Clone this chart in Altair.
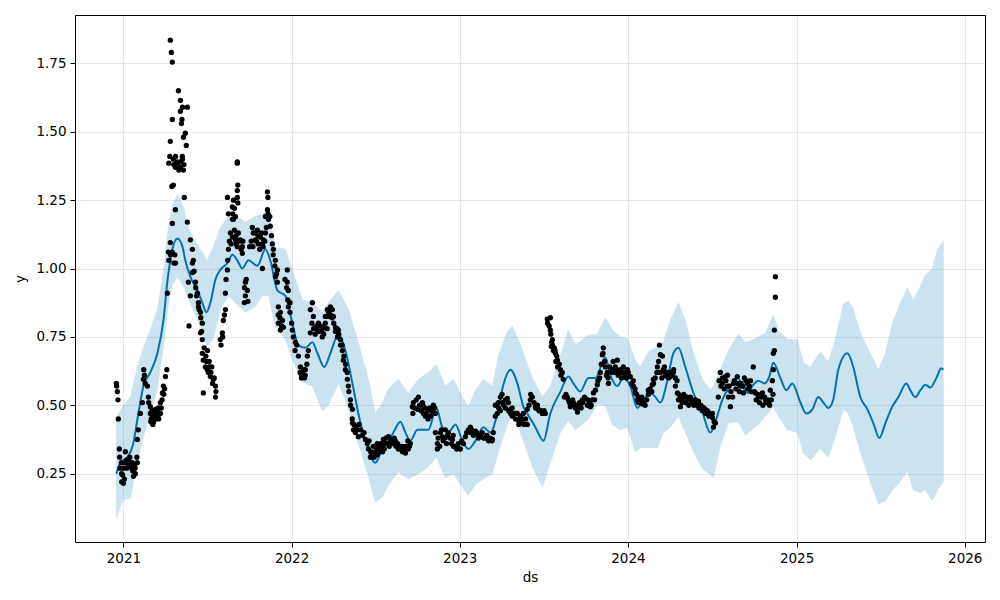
import altair as alt
import pandas as pd

# ---- forecast line (decimal year, yhat) ----
fc_t = [2020.958, 2020.982, 2021.024, 2021.059, 2021.089, 2021.119, 2021.160, 2021.202, 2021.238, 2021.261,
        2021.291, 2021.321, 2021.351, 2021.368, 2021.398, 2021.440, 2021.469, 2021.493, 2021.517, 2021.547,
        2021.576, 2021.618, 2021.648, 2021.677, 2021.707, 2021.743, 2021.796, 2021.844, 2021.873, 2021.915,
        2021.963, 2022.004, 2022.040, 2022.081, 2022.123, 2022.153, 2022.194, 2022.230, 2022.278, 2022.319,
        2022.361, 2022.396, 2022.438, 2022.497, 2022.539, 2022.575, 2022.604, 2022.646, 2022.676, 2022.705,
        2022.747, 2022.783, 2022.812, 2022.860, 2022.895, 2022.931, 2022.973, 2023.014, 2023.050, 2023.092,
        2023.139, 2023.181, 2023.222, 2023.258, 2023.300, 2023.341, 2023.377, 2023.400, 2023.448, 2023.496,
        2023.537, 2023.597, 2023.644, 2023.674, 2023.715, 2023.763, 2023.805, 2023.864, 2023.894, 2023.935,
        2023.971, 2024.012, 2024.054, 2024.090, 2024.131, 2024.161, 2024.191, 2024.232, 2024.268, 2024.298,
        2024.339, 2024.387, 2024.440, 2024.488, 2024.518, 2024.559, 2024.607, 2024.648, 2024.708, 2024.743,
        2024.773, 2024.809, 2024.838, 2024.862, 2024.904, 2024.939, 2024.975, 2025.023, 2025.058, 2025.094,
        2025.129, 2025.159, 2025.189, 2025.218, 2025.248, 2025.302, 2025.337, 2025.379, 2025.421, 2025.456,
        2025.492, 2025.528, 2025.569, 2025.605, 2025.652, 2025.676, 2025.706, 2025.736, 2025.765, 2025.795,
        2025.831, 2025.860, 2025.872]
fc_y = [0.25, 0.29, 0.31, 0.36, 0.47, 0.57, 0.62, 0.69, 0.81, 0.95,
        1.07, 1.11, 1.08, 1.03, 0.97, 0.92, 0.875, 0.84, 0.875, 0.96,
        0.995, 1.02, 1.05, 1.03, 1.00, 1.03, 1.01, 1.07, 1.03, 0.92,
        0.90, 0.80, 0.72, 0.71, 0.73, 0.69, 0.64, 0.69, 0.76, 0.70,
        0.58, 0.47, 0.37, 0.29, 0.34, 0.37, 0.40, 0.44, 0.40, 0.37,
        0.41, 0.41, 0.41, 0.49, 0.42, 0.40, 0.43, 0.37, 0.34, 0.37,
        0.42, 0.40, 0.47, 0.575, 0.63, 0.58, 0.495, 0.47, 0.42, 0.37,
        0.47, 0.55, 0.605, 0.58, 0.55, 0.60, 0.60, 0.675, 0.61, 0.57,
        0.60, 0.57, 0.49, 0.52, 0.545, 0.53, 0.51, 0.59, 0.69, 0.71,
        0.64, 0.545, 0.475, 0.40, 0.44, 0.52, 0.57, 0.60, 0.545, 0.575,
        0.59, 0.58, 0.605, 0.655, 0.60, 0.555, 0.58, 0.51, 0.47, 0.485,
        0.53, 0.51, 0.49, 0.52, 0.63, 0.69, 0.64, 0.53, 0.485, 0.435,
        0.38, 0.435, 0.495, 0.53, 0.58, 0.555, 0.53, 0.555, 0.575, 0.565,
        0.60, 0.635, 0.63]

# ---- uncertainty band (decimal year, lower, upper) ----
band_t = [2020.958, 2020.982, 2021.000, 2021.042, 2021.083, 2021.119, 2021.160, 2021.202, 2021.238, 2021.267,
          2021.291, 2021.321, 2021.357, 2021.386, 2021.428, 2021.458, 2021.499, 2021.535, 2021.576, 2021.624,
          2021.666, 2021.725, 2021.784, 2021.826, 2021.862, 2021.903, 2021.963, 2022.010, 2022.064, 2022.123,
          2022.182, 2022.218, 2022.278, 2022.337, 2022.396, 2022.456, 2022.497, 2022.539, 2022.575, 2022.634,
          2022.693, 2022.753, 2022.812, 2022.860, 2022.913, 2022.961, 2023.014, 2023.050, 2023.092, 2023.139,
          2023.193, 2023.228, 2023.282, 2023.311, 2023.347, 2023.389, 2023.430, 2023.490, 2023.537, 2023.597,
          2023.644, 2023.686, 2023.757, 2023.816, 2023.864, 2023.906, 2023.953, 2023.995, 2024.042, 2024.072,
          2024.119, 2024.173, 2024.209, 2024.250, 2024.298, 2024.339, 2024.387, 2024.440, 2024.488, 2024.506,
          2024.547, 2024.595, 2024.654, 2024.696, 2024.743, 2024.773, 2024.815, 2024.862, 2024.892, 2024.945,
          2025.005, 2025.040, 2025.082, 2025.141, 2025.189, 2025.230, 2025.278, 2025.307, 2025.332, 2025.379,
          2025.438, 2025.486, 2025.528, 2025.569, 2025.617, 2025.658, 2025.694, 2025.736, 2025.765, 2025.807,
          2025.837, 2025.872]
band_lo = [0.09, 0.13, 0.155, 0.16, 0.29, 0.385, 0.47, 0.56, 0.715, 0.87,
           0.94, 0.97, 0.935, 0.89, 0.83, 0.79, 0.715, 0.745, 0.85, 0.90,
           0.875, 0.84, 0.86, 0.90, 0.90, 0.79, 0.74, 0.66, 0.585, 0.57,
           0.48, 0.50, 0.58, 0.49, 0.36, 0.24, 0.145, 0.165, 0.21, 0.255,
           0.23, 0.25, 0.275, 0.31, 0.235, 0.25, 0.20, 0.17, 0.21, 0.23,
           0.25, 0.33, 0.43, 0.47, 0.42, 0.35, 0.275, 0.20, 0.29, 0.40,
           0.445, 0.41, 0.445, 0.50, 0.50, 0.43, 0.41, 0.42, 0.33, 0.345,
           0.345, 0.345, 0.40, 0.42, 0.46, 0.40, 0.33, 0.27, 0.245, 0.235,
           0.35, 0.435, 0.44, 0.39, 0.415, 0.43, 0.46, 0.495, 0.46, 0.41,
           0.40, 0.325, 0.30, 0.34, 0.31, 0.385, 0.485, 0.47, 0.43, 0.33,
           0.22, 0.14, 0.15, 0.19, 0.22, 0.26, 0.19, 0.18, 0.19, 0.15,
           0.19, 0.22]
band_hi = [0.455, 0.48, 0.50, 0.53, 0.64, 0.71, 0.775, 0.85, 0.985, 1.15,
           1.23, 1.27, 1.225, 1.15, 1.10, 1.07, 1.03, 1.08, 1.15, 1.19,
           1.195, 1.17, 1.19, 1.20, 1.215, 1.08, 1.07, 0.985, 0.885, 0.875,
           0.84, 0.875, 0.92, 0.85, 0.73, 0.595, 0.47, 0.51, 0.56, 0.595,
           0.545, 0.595, 0.62, 0.65, 0.57, 0.595, 0.53, 0.495, 0.555, 0.595,
           0.57, 0.68, 0.77, 0.79, 0.74, 0.67, 0.60, 0.53, 0.57, 0.68,
           0.775, 0.72, 0.755, 0.76, 0.82, 0.775, 0.75, 0.745, 0.665, 0.64,
           0.695, 0.715, 0.73, 0.81, 0.875, 0.81, 0.69, 0.595, 0.555, 0.57,
           0.63, 0.70, 0.76, 0.73, 0.74, 0.75, 0.765, 0.83, 0.775, 0.74,
           0.74, 0.655, 0.64, 0.695, 0.66, 0.74, 0.87, 0.88, 0.86, 0.765,
           0.69, 0.63, 0.69, 0.80, 0.875, 0.93, 0.885, 0.935, 0.975, 1.00,
           1.07, 1.10]

# ---- observed points (decimal year, y) ----
obs_2021 = [
    (2020.958, 0.58), (2020.960, 0.57), (2020.964, 0.55), (2020.968, 0.52), (2020.970, 0.45),
    (2020.976, 0.34), (2020.978, 0.31), (2020.988, 0.29), (2020.990, 0.22), (2020.996, 0.245),
    (2021.000, 0.215), (2021.006, 0.23), (2021.012, 0.33), (2021.020, 0.27), (2021.030, 0.30),
    (2021.038, 0.31), (2021.046, 0.285), (2021.053, 0.29), (2021.056, 0.26), (2021.059, 0.275),
    (2021.066, 0.28), (2021.071, 0.25), (2021.083, 0.29), (2021.083, 0.375), (2021.089, 0.41),
    (2021.101, 0.47), (2021.113, 0.51), (2021.119, 0.595), (2021.121, 0.63), (2021.143, 0.57),
    (2021.149, 0.53), (2021.160, 0.495), (2021.163, 0.44), (2021.172, 0.46), (2021.175, 0.43),
    (2021.178, 0.47), (2021.182, 0.45), (2021.190, 0.485), (2021.196, 0.46), (2021.202, 0.47),
    (2021.208, 0.49), (2021.214, 0.47), (2021.220, 0.51), (2021.232, 0.545), (2021.238, 0.57),
    (2021.250, 0.605), (2021.258, 0.63), (2021.261, 0.91), (2021.267, 1.06), (2021.279, 1.095),
    (2021.291, 1.165), (2021.300, 1.02), (2021.306, 1.05), (2021.309, 1.215), (2021.270, 1.385),
    (2021.276, 1.41), (2021.291, 1.545), (2021.279, 1.465), (2021.279, 1.835), (2021.285, 1.79),
    (2021.291, 1.755), (2021.297, 1.40), (2021.309, 1.37), (2021.321, 1.385), (2021.339, 1.37),
    (2021.351, 1.40), (2021.357, 1.36), (2021.327, 1.65), (2021.339, 1.615), (2021.351, 1.59),
    (2021.339, 1.575), (2021.348, 1.545), (2021.345, 1.53), (2021.357, 1.48), (2021.368, 1.495),
    (2021.374, 1.45), (2021.380, 1.59), (2021.288, 1.30), (2021.297, 1.305), (2021.362, 1.26),
    (2021.380, 1.17), (2021.398, 1.105), (2021.410, 1.07), (2021.416, 1.03), (2021.410, 0.985),
    (2021.386, 0.95), (2021.398, 0.90), (2021.390, 0.79), (2021.428, 0.95), (2021.440, 0.91),
    (2021.446, 0.875), (2021.458, 0.84), (2021.469, 0.80), (2021.446, 0.86), (2021.469, 0.74),
    (2021.458, 0.765), (2021.469, 0.69), (2021.475, 0.665), (2021.487, 0.64), (2021.499, 0.63),
    (2021.505, 0.62), (2021.517, 0.605), (2021.535, 0.595), (2021.547, 0.57), (2021.547, 0.53),
    (2021.475, 0.545), (2021.510, 0.66), (2021.525, 0.64),
    (2020.980, 0.27), (2020.990, 0.25), (2021.000, 0.27), (2021.010, 0.29), (2021.020, 0.30),
    (2021.030, 0.28), (2021.040, 0.29), (2021.050, 0.27), (2021.060, 0.24), (2021.070, 0.27),
    (2021.080, 0.31), (2021.125, 0.61), (2021.130, 0.58), (2021.150, 0.51), (2021.160, 0.47),
    (2021.165, 0.45), (2021.170, 0.48), (2021.180, 0.44), (2021.185, 0.47), (2021.190, 0.45),
    (2021.200, 0.48), (2021.205, 0.46), (2021.210, 0.45), (2021.220, 0.47), (2021.225, 0.49),
    (2021.230, 0.52), (2021.240, 0.54), (2021.245, 0.56),
    (2021.300, 1.38), (2021.310, 1.41), (2021.320, 1.39), (2021.330, 1.36), (2021.340, 1.39),
    (2021.350, 1.41), (2021.360, 1.38), (2021.270, 1.03), (2021.280, 1.05), (2021.290, 1.06),
    (2021.310, 1.02), (2021.410, 1.02), (2021.420, 0.99), (2021.430, 0.93), (2021.435, 0.90),
    (2021.450, 0.85), (2021.460, 0.82), (2021.465, 0.77), (2021.480, 0.71), (2021.490, 0.68),
    (2021.495, 0.66), (2021.500, 0.70), (2021.510, 0.64), (2021.520, 0.62), (2021.530, 0.58),
    (2021.540, 0.60), (2021.550, 0.55),
    (2021.576, 0.74), (2021.588, 0.765), (2021.594, 0.81), (2021.606, 0.85), (2021.606, 0.91),
    (2021.618, 0.995), (2021.624, 1.07), (2021.636, 1.13), (2021.648, 1.18), (2021.648, 1.225),
    (2021.654, 1.25), (2021.677, 1.285), (2021.677, 1.385), (2021.654, 1.18), (2021.666, 1.105),
    (2021.677, 1.08), (2021.648, 1.115), (2021.618, 1.26), (2021.624, 1.20), (2021.677, 1.39),
    (2021.680, 1.305), (2021.677, 1.26), (2021.680, 1.24), (2021.666, 1.19), (2021.683, 1.13),
    (2021.695, 1.105), (2021.707, 1.08), (2021.707, 1.055), (2021.725, 0.95), (2021.737, 0.92),
    (2021.725, 0.90), (2021.719, 0.875), (2021.766, 1.15), (2021.772, 1.13), (2021.784, 1.105),
    (2021.796, 1.14), (2021.802, 1.09), (2021.814, 1.115), (2021.826, 1.09), (2021.832, 1.105),
    (2021.844, 1.13), (2021.844, 1.19), (2021.856, 1.215), (2021.856, 1.28), (2021.859, 1.26),
    (2021.862, 1.18), (2021.873, 1.155), (2021.826, 1.00), (2021.885, 1.09), (2021.891, 1.07),
    (2021.903, 1.03), (2021.915, 0.995), (2021.903, 0.97), (2021.915, 0.95), (2021.921, 0.86),
    (2021.933, 0.84), (2021.945, 0.81), (2021.951, 0.785), (2021.921, 0.80), (2021.933, 0.775),
    (2021.974, 0.995), (2021.974, 0.95), (2021.980, 0.92), (2021.977, 0.885), (2021.990, 0.875),
    (2021.580, 0.72), (2021.590, 0.75), (2021.600, 0.83), (2021.610, 0.96), (2021.620, 1.03),
    (2021.630, 1.10), (2021.640, 1.09), (2021.650, 1.20), (2021.660, 1.14), (2021.670, 1.12),
    (2021.660, 1.22), (2021.670, 1.09), (2021.690, 1.10), (2021.700, 1.07), (2021.710, 1.10),
    (2021.720, 0.93), (2021.730, 0.96), (2021.740, 0.88), (2021.750, 1.08), (2021.760, 1.10),
    (2021.770, 1.08), (2021.780, 1.13), (2021.790, 1.10), (2021.800, 1.12), (2021.810, 1.07),
    (2021.820, 1.13), (2021.830, 1.08), (2021.840, 1.10), (2021.850, 1.15), (2021.860, 1.20),
    (2021.870, 1.19), (2021.880, 1.12), (2021.890, 1.05), (2021.900, 1.01), (2021.910, 0.98),
    (2021.920, 0.83), (2021.930, 0.82), (2021.940, 0.79), (2021.960, 0.96), (2021.970, 0.93),
    (2021.980, 0.86), (2021.990, 0.84),
]
obs_2022 = [
    (2022.004, 0.775), (2022.010, 0.75), (2022.022, 0.73), (2022.040, 0.68), (2022.052, 0.64),
    (2022.058, 0.60), (2022.064, 0.62), (2022.070, 0.605), (2022.076, 0.60), (2022.081, 0.63),
    (2022.093, 0.68), (2022.099, 0.70), (2022.111, 0.765), (2022.111, 0.85), (2022.123, 0.875),
    (2022.129, 0.825), (2022.141, 0.785), (2022.153, 0.775), (2022.159, 0.80), (2022.171, 0.77),
    (2022.182, 0.75), (2022.188, 0.785), (2022.200, 0.825), (2022.212, 0.85), (2022.218, 0.825),
    (2022.230, 0.86), (2022.242, 0.85), (2022.248, 0.825), (2022.260, 0.785), (2022.272, 0.75),
    (2022.278, 0.775), (2022.289, 0.74), (2022.301, 0.70), (2022.307, 0.665), (2022.319, 0.63),
    (2022.331, 0.595), (2022.337, 0.57), (2022.349, 0.52), (2022.361, 0.485), (2022.361, 0.435),
    (2022.367, 0.41), (2022.378, 0.40), (2022.396, 0.385), (2022.420, 0.39), (2022.438, 0.375),
    (2022.456, 0.34), (2022.468, 0.31), (2022.485, 0.35), (2022.509, 0.36), (2022.527, 0.35),
    (2022.545, 0.375), (2022.497, 0.33), (2022.515, 0.34), (2022.539, 0.35), (2022.557, 0.36),
    (2022.575, 0.385), (2022.598, 0.375), (2022.616, 0.37), (2022.634, 0.34), (2022.658, 0.33),
    (2022.676, 0.325), (2022.693, 0.34), (2022.705, 0.36), (2022.717, 0.495), (2022.723, 0.51),
    (2022.747, 0.485), (2022.753, 0.53), (2022.777, 0.51), (2022.783, 0.47), (2022.794, 0.46),
    (2022.812, 0.485), (2022.824, 0.46), (2022.842, 0.50), (2022.854, 0.47), (2022.854, 0.40),
    (2022.866, 0.36), (2022.866, 0.34), (2022.884, 0.40), (2022.895, 0.385), (2022.913, 0.41),
    (2022.925, 0.39), (2022.931, 0.40), (2022.955, 0.375), (2022.961, 0.35), (2022.985, 0.345),
    (2022.000, 0.80), (2022.020, 0.70), (2022.030, 0.72), (2022.050, 0.62), (2022.060, 0.61),
    (2022.070, 0.63), (2022.080, 0.61), (2022.090, 0.65), (2022.120, 0.80), (2022.130, 0.78),
    (2022.140, 0.76), (2022.150, 0.79), (2022.160, 0.77), (2022.170, 0.79), (2022.180, 0.77),
    (2022.190, 0.76), (2022.200, 0.80), (2022.210, 0.78), (2022.220, 0.84), (2022.230, 0.83),
    (2022.240, 0.82), (2022.250, 0.80), (2022.260, 0.77), (2022.270, 0.78), (2022.280, 0.76),
    (2022.290, 0.72), (2022.300, 0.72), (2022.310, 0.68), (2022.320, 0.65), (2022.330, 0.62),
    (2022.340, 0.55), (2022.350, 0.50), (2022.360, 0.45), (2022.370, 0.43), (2022.380, 0.42),
    (2022.390, 0.41), (2022.400, 0.43), (2022.410, 0.41), (2022.430, 0.40), (2022.450, 0.36),
    (2022.460, 0.37), (2022.470, 0.33), (2022.480, 0.32), (2022.490, 0.31), (2022.500, 0.35),
    (2022.510, 0.32), (2022.520, 0.33), (2022.530, 0.36), (2022.540, 0.33), (2022.550, 0.34),
    (2022.560, 0.38), (2022.570, 0.36), (2022.580, 0.35), (2022.590, 0.37), (2022.600, 0.36),
    (2022.610, 0.38), (2022.620, 0.35), (2022.630, 0.36), (2022.640, 0.35), (2022.650, 0.34),
    (2022.660, 0.35), (2022.670, 0.34), (2022.680, 0.35), (2022.690, 0.37), (2022.700, 0.35),
    (2022.720, 0.47), (2022.730, 0.49), (2022.740, 0.52), (2022.760, 0.50), (2022.770, 0.48),
    (2022.780, 0.50), (2022.790, 0.49), (2022.800, 0.47), (2022.810, 0.45), (2022.820, 0.49),
    (2022.830, 0.48), (2022.840, 0.47), (2022.850, 0.49), (2022.870, 0.38), (2022.880, 0.35),
    (2022.890, 0.41), (2022.900, 0.37), (2022.910, 0.38), (2022.920, 0.36), (2022.940, 0.38),
    (2022.950, 0.36), (2022.960, 0.39), (2022.970, 0.35), (2022.980, 0.34), (2022.990, 0.36),
]
obs_2023 = [
    (2023.002, 0.34), (2023.020, 0.36), (2023.032, 0.385), (2023.050, 0.41), (2023.062, 0.42),
    (2023.074, 0.40), (2023.092, 0.405), (2023.109, 0.385), (2023.133, 0.40), (2023.151, 0.38),
    (2023.169, 0.375), (2023.193, 0.375), (2023.198, 0.40), (2023.210, 0.46), (2023.222, 0.47),
    (2023.228, 0.51), (2023.240, 0.53), (2023.252, 0.51), (2023.270, 0.52), (2023.282, 0.525),
    (2023.288, 0.51), (2023.300, 0.485), (2023.311, 0.46), (2023.329, 0.47), (2023.347, 0.445),
    (2023.359, 0.46), (2023.371, 0.435), (2023.377, 0.47), (2023.400, 0.485), (2023.418, 0.52),
    (2023.430, 0.53), (2023.448, 0.495), (2023.466, 0.485), (2023.490, 0.47), (2023.507, 0.47),
    (2023.519, 0.815), (2023.537, 0.82), (2023.537, 0.775), (2023.549, 0.74), (2023.543, 0.715),
    (2023.555, 0.70), (2023.567, 0.69), (2023.579, 0.665), (2023.585, 0.64), (2023.597, 0.63),
    (2023.608, 0.62), (2023.614, 0.595), (2023.638, 0.53), (2023.644, 0.52), (2023.656, 0.495),
    (2023.674, 0.51), (2023.686, 0.49), (2023.698, 0.475), (2023.715, 0.495), (2023.727, 0.52),
    (2023.745, 0.525), (2023.757, 0.50), (2023.775, 0.495), (2023.787, 0.52), (2023.793, 0.545),
    (2023.805, 0.555), (2023.816, 0.575), (2023.834, 0.62), (2023.846, 0.685), (2023.852, 0.71),
    (2023.864, 0.64), (2023.876, 0.62), (2023.882, 0.58), (2023.906, 0.63), (2023.923, 0.64),
    (2023.935, 0.665), (2023.953, 0.63), (2023.971, 0.64), (2023.995, 0.63),
    (2023.010, 0.37), (2023.040, 0.40), (2023.060, 0.40), (2023.070, 0.41), (2023.080, 0.39),
    (2023.100, 0.40), (2023.110, 0.38), (2023.120, 0.39), (2023.140, 0.38), (2023.160, 0.39),
    (2023.170, 0.37), (2023.180, 0.38), (2023.190, 0.37), (2023.210, 0.50), (2023.230, 0.49),
    (2023.240, 0.48), (2023.250, 0.54), (2023.260, 0.50), (2023.270, 0.49), (2023.290, 0.48),
    (2023.300, 0.47), (2023.310, 0.49), (2023.320, 0.47), (2023.330, 0.45), (2023.340, 0.47),
    (2023.350, 0.43), (2023.360, 0.44), (2023.370, 0.45), (2023.380, 0.43), (2023.390, 0.45),
    (2023.400, 0.43), (2023.410, 0.50), (2023.420, 0.54), (2023.440, 0.51), (2023.450, 0.49),
    (2023.460, 0.50), (2023.470, 0.48), (2023.480, 0.48), (2023.490, 0.47), (2023.500, 0.48),
    (2023.520, 0.80), (2023.530, 0.79), (2023.540, 0.76), (2023.545, 0.73), (2023.550, 0.72),
    (2023.560, 0.71), (2023.565, 0.70), (2023.570, 0.66), (2023.575, 0.68), (2023.580, 0.64),
    (2023.590, 0.65), (2023.600, 0.61), (2023.620, 0.53), (2023.630, 0.54), (2023.650, 0.51),
    (2023.660, 0.50), (2023.670, 0.52), (2023.680, 0.50), (2023.690, 0.49), (2023.700, 0.50),
    (2023.710, 0.51), (2023.720, 0.49), (2023.730, 0.51), (2023.740, 0.53), (2023.760, 0.52),
    (2023.770, 0.51), (2023.780, 0.50), (2023.800, 0.52), (2023.820, 0.59), (2023.830, 0.60),
    (2023.840, 0.65), (2023.850, 0.69), (2023.860, 0.66), (2023.870, 0.61), (2023.880, 0.60),
    (2023.890, 0.64), (2023.900, 0.62), (2023.910, 0.66), (2023.920, 0.62), (2023.930, 0.63),
    (2023.940, 0.61), (2023.950, 0.62), (2023.960, 0.60), (2023.970, 0.62), (2023.980, 0.61),
    (2023.990, 0.60),
]
obs_2024 = [
    (2024.012, 0.605), (2024.030, 0.57), (2024.042, 0.545), (2024.054, 0.52), (2024.060, 0.51),
    (2024.084, 0.505), (2024.102, 0.52), (2024.119, 0.555), (2024.143, 0.575), (2024.149, 0.595),
    (2024.173, 0.64), (2024.185, 0.72), (2024.191, 0.685), (2024.209, 0.63), (2024.232, 0.605),
    (2024.238, 0.62), (2024.203, 0.68), (2024.215, 0.64), (2024.220, 0.62), (2024.250, 0.605),
    (2024.268, 0.62), (2024.280, 0.57), (2024.292, 0.545), (2024.298, 0.52), (2024.310, 0.495),
    (2024.321, 0.525), (2024.339, 0.53), (2024.357, 0.52), (2024.381, 0.51), (2024.399, 0.52),
    (2024.417, 0.515), (2024.440, 0.495), (2024.458, 0.485), (2024.476, 0.47), (2024.500, 0.455),
    (2024.506, 0.42), (2024.518, 0.435), (2024.535, 0.53), (2024.547, 0.62), (2024.559, 0.58),
    (2024.577, 0.605), (2024.589, 0.57), (2024.595, 0.53), (2024.607, 0.495), (2024.625, 0.58),
    (2024.648, 0.605), (2024.666, 0.57), (2024.684, 0.545), (2024.708, 0.58), (2024.726, 0.59),
    (2024.743, 0.64), (2024.755, 0.545), (2024.773, 0.53), (2024.797, 0.545), (2024.815, 0.52),
    (2024.833, 0.51), (2024.844, 0.555), (2024.856, 0.59), (2024.862, 0.63), (2024.862, 0.69),
    (2024.868, 0.70), (2024.868, 0.775), (2024.874, 0.895), (2024.874, 0.97),
    (2024.000, 0.62), (2024.020, 0.58), (2024.030, 0.59), (2024.040, 0.56), (2024.050, 0.54),
    (2024.060, 0.53), (2024.070, 0.52), (2024.080, 0.53), (2024.090, 0.51), (2024.100, 0.50),
    (2024.110, 0.52), (2024.120, 0.54), (2024.130, 0.56), (2024.140, 0.55), (2024.150, 0.58),
    (2024.160, 0.60), (2024.170, 0.62), (2024.180, 0.66), (2024.190, 0.62), (2024.200, 0.60),
    (2024.210, 0.63), (2024.220, 0.61), (2024.230, 0.62), (2024.240, 0.60), (2024.250, 0.62),
    (2024.260, 0.61), (2024.270, 0.63), (2024.280, 0.60), (2024.290, 0.59), (2024.300, 0.54),
    (2024.310, 0.53), (2024.320, 0.51), (2024.330, 0.54), (2024.340, 0.51), (2024.350, 0.53),
    (2024.360, 0.50), (2024.370, 0.53), (2024.380, 0.52), (2024.390, 0.50), (2024.400, 0.51),
    (2024.410, 0.50), (2024.420, 0.49), (2024.430, 0.50), (2024.440, 0.48), (2024.450, 0.49),
    (2024.460, 0.47), (2024.470, 0.48), (2024.480, 0.46), (2024.490, 0.47), (2024.500, 0.47),
    (2024.510, 0.44), (2024.540, 0.59), (2024.550, 0.57), (2024.560, 0.60), (2024.570, 0.56),
    (2024.580, 0.59), (2024.590, 0.61), (2024.600, 0.57), (2024.610, 0.55), (2024.620, 0.53),
    (2024.630, 0.59), (2024.640, 0.56), (2024.650, 0.58), (2024.660, 0.55), (2024.670, 0.58),
    (2024.680, 0.57), (2024.690, 0.60), (2024.700, 0.59), (2024.710, 0.56), (2024.720, 0.57),
    (2024.730, 0.55), (2024.750, 0.55), (2024.760, 0.52), (2024.770, 0.54), (2024.780, 0.51),
    (2024.790, 0.53), (2024.800, 0.50), (2024.810, 0.53), (2024.820, 0.51), (2024.830, 0.52),
    (2024.840, 0.50), (2024.850, 0.52), (2024.860, 0.54),
]

x_ticks = [2021, 2022, 2023, 2024, 2025, 2026]
y_ticks = [0.25, 0.50, 0.75, 1.00, 1.25, 1.50, 1.75]

BASE = pd.Timestamp("2021-01-01")


def to_dates(years):
    return [BASE + pd.Timedelta(days=(t - 2021.0) * 365.25) for t in years]


fc_df = pd.DataFrame({"ds": to_dates(fc_t), "yhat": fc_y})
band_df = pd.DataFrame({"ds": to_dates(band_t), "lo": band_lo, "hi": band_hi})
obs = obs_2021 + obs_2022 + obs_2023 + obs_2024
obs_df = pd.DataFrame({"ds": to_dates([p[0] for p in obs]), "y": [p[1] for p in obs]})

x_scale = alt.Scale(domain=[alt.DateTime(year=2020, month=9, date=18),
                            alt.DateTime(year=2026, month=2, date=14)], nice=False)
y_scale = alt.Scale(domain=[0.0, 1.927], nice=False, zero=False)

x_axis = alt.Axis(title="ds", values=[alt.DateTime(year=y, month=1, date=1) for y in x_ticks],
                  format="%Y", grid=True)
y_axis = alt.Axis(title="y", values=y_ticks, format=".2f", grid=True)

band = alt.Chart(band_df).mark_area(
    color="#0072B2", opacity=0.2, stroke="#0072B2", strokeWidth=1, strokeOpacity=0.6
).encode(
    x=alt.X("ds:T", scale=x_scale, axis=x_axis),
    y=alt.Y("lo:Q", scale=y_scale, axis=y_axis),
    y2="hi:Q",
)
line = alt.Chart(fc_df).mark_line(color="#0072B2", strokeWidth=2, interpolate="monotone").encode(
    x="ds:T", y="yhat:Q"
)
dots = alt.Chart(obs_df).mark_circle(color="black", size=28, opacity=1).encode(
    x="ds:T", y="y:Q"
)

chart = alt.layer(band, line, dots).properties(
    width=910, height=527,
    autosize=alt.AutoSizeParams(type="none"),
    padding={"left": 67, "top": 7, "right": 7, "bottom": 50},
).configure_view(
    stroke="black", strokeWidth=1
).configure_axis(
    labelFont="DejaVu Sans", labelFontSize=13.5, labelColor="black",
    titleFont="DejaVu Sans", titleFontSize=13.5, titleFontWeight="normal", titleColor="black",
    tickColor="black", tickSize=5, tickWidth=1, labelPadding=4,
    domain=False, gridColor="#b0b0b0", gridOpacity=0.3, gridWidth=1,
).configure_axisX(titlePadding=6).configure_axisY(titlePadding=8)

chart.save("out.html", embed_options={"renderer": "svg", "actions": False})
